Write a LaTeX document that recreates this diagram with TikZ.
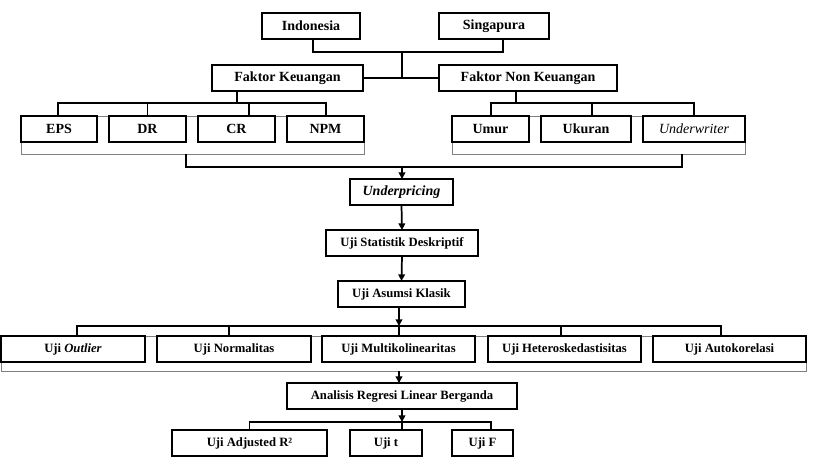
\documentclass[tikz,border=0pt]{standalone}
\usepackage{fontspec}
\setmainfont{Liberation Serif}
\usetikzlibrary{arrows.meta}
\begin{document}
\begin{tikzpicture}[x=0.75pt,y=-0.75pt,
  bx/.style={draw=black,line width=1.3pt,fill=white,inner sep=0pt,outer sep=0pt,
    minimum height=19.5pt,font=\fontsize{9.5}{10}\selectfont\bfseries},
  big/.style={font=\fontsize{10.5}{11}\selectfont\bfseries},
  ln/.style={draw=black,line width=1.3pt},
  arr/.style={ln,-{Triangle[length=5pt,width=5pt]}},
  grp/.style={draw=gray,line width=0.6pt}]
\useasboundingbox (0,0) rectangle (815,469);
% group frames
\draw[grp] (21,116) rectangle (364,154);
\draw[grp] (452,116) rectangle (745,154);
\draw[grp] (1,336) rectangle (806,371);
% top
\node[bx,big,minimum width=73.5pt] (ind) at (311,26) {Indonesia};
\node[bx,big,minimum width=82.5pt] (sing) at (494,26) {Singapura};
\node[bx,big,minimum width=113pt] (fk) at (287.5,78) {Faktor Keuangan};
\node[bx,big,minimum width=133.5pt] (fnk) at (528,78) {Faktor Non Keuangan};
\coordinate (j1) at (402,52);
\draw[ln] ([xshift=1.5pt]ind.south) -- ([xshift=1.5pt]ind.south |- j1) -| ([xshift=6.75pt]sing.south);
\draw[ln] (j1) -- (j1 |- fk.east);
\draw[ln] (fk.east) -- (fnk.west);
% financial factors
\node[bx,big,minimum width=57pt] (eps) at (59,129) {EPS};
\node[bx,big,minimum width=57.75pt] (dr) at (147.5,129) {DR};
\node[bx,big,minimum width=57.75pt] (cr) at (236.5,129) {CR};
\node[bx,big,minimum width=57.75pt] (npm) at (325.5,129) {NPM};
\coordinate (j2) at (237,103);
\draw[ln] (j2 |- fk.south) -- (j2);
\draw[ln] ([xshift=-0.75pt]eps.north) |- (j2) -| ([xshift=0.375pt]npm.north);
\draw[ln] (dr.north) -- (dr.north |- j2);
\draw[ln] ([xshift=9.375pt]cr.north) -- ([xshift=9.375pt]cr.north |- j2);
% non-financial factors
\node[bx,big,minimum width=57.75pt] (umur) at (490.5,129) {Umur};
\node[bx,big,minimum width=67.5pt] (uk) at (586,129) {Ukuran};
\node[bx,minimum width=76.5pt,font=\fontsize{10.5}{11}\selectfont\itshape] (uw) at (694,129) {Underwriter};
\coordinate (j3) at (516,103);
\draw[ln] (j3 |- fnk.south) -- (j3);
\draw[ln] ([xshift=0.375pt]umur.north) |- (j3) -| (uw.north);
\draw[ln] ([xshift=4.5pt]uk.north) -- ([xshift=4.5pt]uk.north |- j3);
% merge to underpricing
\node[bx,minimum width=77.25pt,font=\fontsize{10.5}{11}\selectfont\bfseries\itshape] (up) at (401.5,192) {Underpricing};
\coordinate (gl) at (186,154);
\coordinate (gr) at (682,154);
\coordinate (j4) at (402,167);
\draw[ln] (gl) |- (j4) -| (gr);
\draw[arr] (j4) -- (j4 |- up.north);
% central chain
\node[bx,minimum width=114pt] (usd) at (402,243) {Uji Statistik Deskriptif};
\node[bx,minimum width=95.25pt] (uak) at (401.5,294) {Uji Asumsi Klasik};
\draw[arr] (up.south) -- (usd.north);
\draw[arr] (usd.south) -- (uak.north);
% assumption tests
\node[bx,minimum width=108pt] (uo) at (73,349) {Uji \textit{Outlier}};
\node[bx,minimum width=115.5pt] (un) at (234,349) {Uji Normalitas};
\node[bx,minimum width=114.75pt] (um) at (398.5,349) {Uji Multikolinearitas};
\node[bx,minimum width=114.75pt] (uh) at (564.5,349) {Uji Heteroskedastisitas};
\node[bx,minimum width=114.75pt] (ua) at (729.5,349) {Uji Autokorelasi};
\coordinate (j5) at (399,326);
\draw[ln] ([xshift=3pt]uo.north) |- (j5) -| ([xshift=-6.375pt]ua.north);
\draw[ln] ([xshift=-3.75pt]un.north) -- ([xshift=-3.75pt]un.north |- j5);
\draw[ln] ([xshift=0.375pt]um.north) -- ([xshift=0.375pt]um.north |- j5);
\draw[ln] ([xshift=-2.625pt]uh.north) -- ([xshift=-2.625pt]uh.north |- j5);
\draw[arr] (j5 |- uak.south) -- (j5);
% regression
\node[bx,minimum width=172.5pt] (arl) at (402,396) {Analisis Regresi Linear Berganda};
\coordinate (gb) at (399,371);
\draw[arr] (gb) -- (gb |- arl.north);
\node[bx,minimum width=116.25pt] (uadj) at (249.5,443) {Uji Adjusted R²};
\node[bx,minimum width=54pt] (ut) at (386,443) {Uji t};
\node[bx,minimum width=45.75pt] (uf) at (482.5,443) {Uji F};
\coordinate (j6) at (402,422);
\draw[ln] (uadj.north) |- (j6) -| ([xshift=6.375pt]uf.north);
\draw[ln] (j6) -- (j6 |- ut.north);
\draw[arr] (arl.south) -- (j6);
\end{tikzpicture}
\end{document}
